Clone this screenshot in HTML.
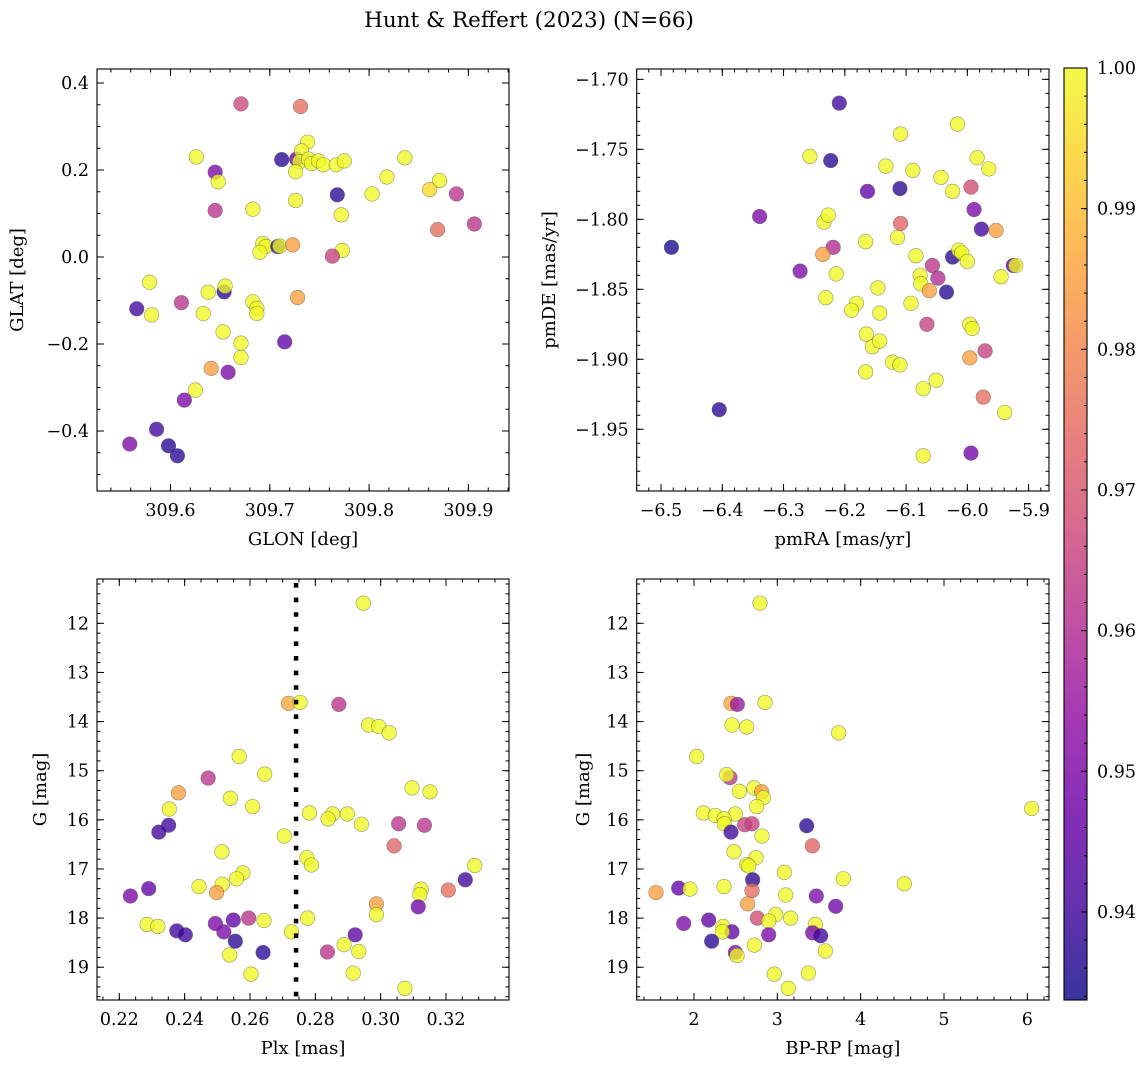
<!DOCTYPE html>
<html><head><meta charset="utf-8">
<style>
html,body{margin:0;padding:0;background:#fff;}
svg{display:block;font-family:"DejaVu Serif","Liberation Serif",serif;}
</style></head>
<body>
<svg id="fig" width="1148" height="1068" viewBox="0 0 1148 1068" xmlns="http://www.w3.org/2000/svg">
<defs>
<linearGradient id="plasma" x1="0" y1="1" x2="0" y2="0">
<stop offset="0" stop-color="#0d0887"/><stop offset="0.1" stop-color="#41049d"/><stop offset="0.2" stop-color="#6a00a8"/><stop offset="0.3" stop-color="#8f0da4"/><stop offset="0.4" stop-color="#b12a90"/><stop offset="0.5" stop-color="#cc4778"/><stop offset="0.6" stop-color="#e16462"/><stop offset="0.7" stop-color="#f2844b"/><stop offset="0.8" stop-color="#fca636"/><stop offset="0.9" stop-color="#fcce25"/><stop offset="1" stop-color="#f0f921"/>
</linearGradient>
</defs>
<text x="529" y="27" font-size="21.5" text-anchor="middle">Hunt &amp; Reffert (2023) (N=66)</text>
<g id="plots"></g>
</svg>
<script>
// ---- Panel 1: GLON vs GLAT ----
const p1Glon=[309.671,309.731,309.626,309.712,309.727,309.738,309.732,309.730,309.739,309.742,309.749,309.754,309.767,309.775,309.726,309.836,309.645,309.648,309.818,309.871,309.861,309.768,309.803,309.888,309.726,309.645,309.683,309.772,309.906,309.869,309.693,309.696,309.690,309.708,309.710,309.723,309.773,309.763,309.579,309.566,309.581,309.611,309.638,309.654,309.655,309.633,309.683,309.687,309.687,309.728,309.653,309.671,309.671,309.715,309.641,309.658,309.625,309.614,309.586,309.559,309.598,309.607];
const p1Glat=[0.352,0.346,0.230,0.224,0.225,0.264,0.244,0.219,0.225,0.215,0.221,0.212,0.212,0.221,0.196,0.228,0.195,0.173,0.184,0.176,0.155,0.143,0.145,0.145,0.130,0.107,0.110,0.097,0.076,0.063,0.031,0.024,0.011,0.024,0.025,0.028,0.015,0.002,-0.058,-0.119,-0.133,-0.105,-0.081,-0.080,-0.067,-0.130,-0.103,-0.118,-0.130,-0.093,-0.172,-0.198,-0.231,-0.195,-0.256,-0.265,-0.306,-0.329,-0.396,-0.430,-0.434,-0.457];
const p1Prob=[0.967,0.975,1,0.937,0.945,1,1,1,1,1,1,1,1,1,1,1,0.95,1,1,1,0.995,0.937,1,0.962,1,0.962,1,1,0.962,0.975,1,1,1,0.937,1,0.985,1,0.965,1,0.94,1,0.962,1,0.937,1,1,1,1,1,0.985,1,1,1,0.945,0.985,0.95,1,0.95,0.94,0.95,0.937,0.937];
// ---- Panel 2: pmRA vs pmDE ----
const p2PmRA=[-6.209,-6.016,-6.109,-6.257,-6.223,-5.984,-6.133,-6.089,-5.965,-6.043,-6.163,-6.110,-6.024,-5.994,-5.989,-6.339,-6.234,-6.227,-6.109,-5.977,-5.953,-6.483,-6.219,-6.166,-6.114,-6.236,-6.084,-6.024,-6.014,-6.009,-6.000,-6.273,-6.214,-6.057,-5.925,-5.921,-6.077,-6.076,-6.048,-5.945,-6.146,-6.062,-6.034,-6.231,-6.181,-6.189,-6.143,-6.092,-6.066,-5.996,-5.992,-6.165,-6.155,-6.143,-5.971,-5.996,-6.122,-6.110,-6.166,-6.051,-6.072,-5.974,-5.939,-6.405,-6.072,-5.994];
const p2PmDE=[-1.717,-1.732,-1.739,-1.755,-1.758,-1.756,-1.762,-1.765,-1.764,-1.770,-1.780,-1.778,-1.780,-1.777,-1.793,-1.798,-1.802,-1.797,-1.803,-1.807,-1.808,-1.820,-1.820,-1.816,-1.813,-1.825,-1.826,-1.827,-1.822,-1.824,-1.830,-1.837,-1.839,-1.833,-1.833,-1.833,-1.840,-1.846,-1.842,-1.841,-1.849,-1.851,-1.852,-1.856,-1.860,-1.865,-1.867,-1.860,-1.875,-1.875,-1.878,-1.882,-1.891,-1.887,-1.894,-1.899,-1.902,-1.904,-1.909,-1.915,-1.921,-1.927,-1.938,-1.936,-1.969,-1.967];
const p2Prob=[0.94,1,1,1,0.937,1,1,1,1,1,0.945,0.937,1,0.968,0.95,0.95,1,1,0.973,0.94,0.985,0.935,0.96,1,1,0.985,1,0.937,1,1,1,0.95,1,0.962,0.945,1,1,1,0.96,1,1,0.985,0.937,1,1,1,1,1,0.965,1,1,1,1,1,0.965,0.985,1,1,1,1,1,0.975,1,0.937,1,0.948];
// ---- Panel 3: Plx vs G ----
const p3Plx=[0.2947,0.2718,0.2753,0.2872,0.2963,0.2994,0.3026,0.2567,0.2645,0.2472,0.2381,0.3096,0.3151,0.2540,0.2608,0.2353,0.2782,0.2853,0.2839,0.2898,0.2941,0.2351,0.2321,0.3055,0.3134,0.2705,0.3041,0.2514,0.2774,0.2788,0.3288,0.3259,0.2578,0.2559,0.2515,0.2444,0.2498,0.2290,0.2234,0.3124,0.3120,0.3207,0.2987,0.3115,0.2987,0.2776,0.2596,0.2549,0.2643,0.2494,0.2285,0.2318,0.2520,0.2376,0.2402,0.2727,0.2922,0.2555,0.2888,0.2933,0.2837,0.2640,0.2538,0.2603,0.2916,0.3074];
const p3G=[11.59,13.63,13.61,13.65,14.07,14.10,14.23,14.71,15.07,15.15,15.45,15.35,15.43,15.56,15.73,15.78,15.86,15.88,15.98,15.88,16.09,16.11,16.25,16.08,16.11,16.33,16.53,16.65,16.77,16.92,16.93,17.22,17.08,17.20,17.31,17.36,17.48,17.40,17.55,17.41,17.52,17.43,17.71,17.77,17.93,18.00,18.00,18.04,18.05,18.11,18.13,18.17,18.28,18.26,18.34,18.28,18.34,18.47,18.54,18.68,18.69,18.70,18.75,19.14,19.12,19.43];
const p3Prob=[1,0.987,1,0.962,1,1,1,1,1,0.962,0.985,1,1,1,1,1,1,1,1,1,1,0.94,0.94,0.962,0.962,1,0.973,1,1,1,1,0.94,1,1,1,1,0.985,0.945,0.95,1,1,0.975,0.985,0.948,1,1,0.962,0.945,1,0.95,1,1,0.95,0.94,0.94,1,0.945,0.937,1,1,0.962,0.937,1,1,1,1];
const plxRef=[0.2741];
// ---- Panel 4: BP-RP vs G ----
const p4Bprp=[2.792,2.444,2.520,2.852,2.456,2.632,3.736,2.032,2.432,2.392,2.720,2.812,2.544,2.832,2.752,6.052,2.112,2.256,2.496,2.360,2.364,2.608,2.696,3.352,2.444,2.816,3.420,2.480,2.744,2.632,2.656,3.084,2.704,3.792,4.524,2.360,1.816,1.952,1.544,2.696,3.100,3.468,2.644,3.700,2.980,2.760,3.160,2.176,2.896,1.876,2.348,2.456,2.340,3.456,3.424,3.520,2.896,2.212,2.724,3.576,2.496,2.516,2.964,3.372,3.132];
const p4G=[11.59,13.63,13.65,13.61,14.07,14.11,14.23,14.71,15.14,15.08,15.35,15.43,15.42,15.55,15.73,15.77,15.86,15.91,15.88,15.98,16.08,16.10,16.08,16.12,16.25,16.33,16.53,16.65,16.77,16.91,16.94,17.07,17.22,17.20,17.30,17.36,17.39,17.41,17.48,17.44,17.53,17.55,17.71,17.76,17.93,18.00,18.00,18.04,18.06,18.11,18.17,18.28,18.28,18.13,18.30,18.36,18.34,18.47,18.55,18.67,18.70,18.76,19.14,19.12,19.43];
const p4Prob=[1,0.987,0.955,1,1,1,1,1,0.962,1,1,0.985,1,1,1,1,1,1,1,1,1,0.965,0.965,0.937,0.94,1,0.973,1,1,1,1,1,0.937,1,1,1,0.945,1,0.985,0.975,1,0.95,0.985,0.948,1,0.968,1,0.945,1,0.95,1,0.945,1,1,0.95,0.94,0.95,0.937,1,1,0.95,1,1,1,1];
// ---- Colorbar ----
const cbTicks=[0.94,0.95,0.96,0.97,0.98,0.99,1.00];
const cbRange=[0.93374,1.0];

const NS="http://www.w3.org/2000/svg";
const root=document.getElementById('plots');
function mk(tag,attrs,parent){const e=document.createElementNS(NS,tag);for(const k in attrs)e.setAttribute(k,attrs[k]);(parent||root).appendChild(e);return e;}
const stops=[[13,8,135],[65,4,157],[106,0,168],[143,13,164],[177,42,144],[204,71,120],[225,100,98],[242,132,75],[252,166,54],[252,206,37],[240,249,33]];
function plasma(v){let t=(v-cbRange[0])/(cbRange[1]-cbRange[0]);t=Math.max(0,Math.min(1,t))*10;const i=Math.min(9,Math.floor(t)),f=t-i;const a=stops[i],b=stops[i+1];return 'rgb('+[0,1,2].map(k=>Math.round(a[k]+(b[k]-a[k])*f)).join(',')+')';}
function lin(d0,d1,r0,r1){return v=>r0+(v-d0)/(d1-d0)*(r1-r0);}
function fmt(v,dec){const s=Math.abs(v).toFixed(dec);return (v<-1e-9?'\u2212':'')+s;}
function ticksIn(d0,d1,step){const lo=Math.min(d0,d1),hi=Math.max(d0,d1);const out=[];for(let k=Math.ceil(lo/step-1e-6);k*step<=hi+1e-9;k++)out.push(+(k*step).toFixed(6));return out;}
const TFS=17.5, LFS=18;

function panel(c){
  const g=mk('g',{});
  
  
  const xs=lin(c.xd[0],c.xd[1],c.box[0],c.box[1]);
  const ys=lin(c.yd[0],c.yd[1],c.box[2],c.box[3]);
  const [L,R,T,B]=c.box;
  const tg=mk('g',{stroke:'#000','stroke-width':1},g);
  ticksIn(c.xd[0],c.xd[1],c.xminor).forEach(v=>{const x=xs(v);mk('line',{x1:x,x2:x,y1:B,y2:B-3.5},tg);mk('line',{x1:x,x2:x,y1:T,y2:T+3.5},tg);});
  ticksIn(c.yd[0],c.yd[1],c.yminor).forEach(v=>{const y=ys(v);mk('line',{x1:L,x2:L+3.5,y1:y,y2:y},tg);mk('line',{x1:R,x2:R-3.5,y1:y,y2:y},tg);});
  ticksIn(c.xd[0],c.xd[1],c.xmajor).forEach(v=>{const x=xs(v);mk('line',{x1:x,x2:x,y1:B,y2:B-7},tg);mk('line',{x1:x,x2:x,y1:T,y2:T+7},tg);
    const t=mk('text',{x:x,y:B+25,'font-size':TFS,'text-anchor':'middle'},g);t.textContent=fmt(v,c.xdec);
    
    });
  ticksIn(c.yd[0],c.yd[1],c.ymajor).forEach(v=>{const y=ys(v);mk('line',{x1:L,x2:L+7,y1:y,y2:y},tg);mk('line',{x1:R,x2:R-7,y1:y,y2:y},tg);
    const t=mk('text',{x:L-8,y:y+6,'font-size':TFS,'text-anchor':'end'},g);t.textContent=fmt(v,c.ydec);
    
    });
  const pg=mk('g',{},g);
  
  
  c.xv.forEach((v,i)=>{const p=mk('circle',{cx:xs(v),cy:ys(c.yv[i]),r:7.3,fill:plasma(c.cv[i]),'fill-opacity':0.78,stroke:'#555','stroke-opacity':0.6,'stroke-width':0.6},pg);
    
    });
  if(c.extra)c.extra(g,xs,ys);
  const fr=mk('rect',{x:L,y:T,width:R-L,height:B-T,fill:'none',stroke:'#000','stroke-width':1.1},g);
  
  
  const xl=mk('text',{x:(L+R)/2,y:B+54,'font-size':LFS,'text-anchor':'middle'},g);xl.textContent=c.xlabel;
  
  
  const yl=mk('text',{x:0,y:0,'font-size':LFS,'text-anchor':'middle',transform:'translate('+c.ylx+','+(T+B)/2+') rotate(-90)'},g);yl.textContent=c.ylabel;
  
  
}

panel({name:'panel-glon-glat',box:[97,509,69,491],xd:[309.5260,309.9409],yd:[0.4322,-0.5379],xmajor:0.1,xminor:0.02,ymajor:0.2,yminor:0.05,xdec:1,ydec:1,xv:p1Glon,yv:p1Glat,cv:p1Prob,xlabel:'GLON [deg]',ylabel:'GLAT [deg]',ylx:23});
panel({name:'panel-pmra-pmde',box:[636.7,1049,69,491],xd:[-6.5397,-5.8667],yd:[-1.6926,-1.9941],xmajor:0.1,xminor:0.02,ymajor:0.05,yminor:0.01,xdec:1,ydec:2,xv:p2PmRA,yv:p2PmDE,cv:p2Prob,xlabel:'pmRA [mas/yr]',ylabel:'pmDE [mas/yr]',ylx:555});
panel({name:'panel-plx-g',box:[97,509,579,1000],xd:[0.21317,0.33928],yd:[11.098,19.667],xmajor:0.02,xminor:0.005,ymajor:1,yminor:0.2,xdec:2,ydec:0,xv:p3Plx,yv:p3G,cv:p3Prob,xlabel:'Plx [mas]',ylabel:'G [mag]',ylx:46,
  extra:(g,xs,ys)=>{const x=xs(plxRef[0]);const l=mk('line',{x1:x,x2:x,y1:579,y2:1000,stroke:'#000','stroke-width':4.5,'stroke-dasharray':'4.6 10','stroke-dashoffset':'-4'},g);
    
    }});
panel({name:'panel-bprp-g',box:[636.7,1049,579,1000],xd:[1.3124,6.260],yd:[11.098,19.667],xmajor:1,xminor:0.2,ymajor:1,yminor:0.2,xdec:0,ydec:0,xv:p4Bprp,yv:p4G,cv:p4Prob,xlabel:'BP-RP [mag]',ylabel:'G [mag]',ylx:589});

(function(){
  const g=mk('g',{});
  
  
  const L=1064,R=1087,T=68,B=1000;
  const cs=lin(cbRange[0],cbRange[1],B,T);
  mk('rect',{x:L,y:T,width:R-L,height:B-T,fill:'url(#plasma)','fill-opacity':0.82},g);
  ticksIn(cbRange[0],cbRange[1],0.002).forEach(v=>{const y=cs(v);mk('line',{x1:R,x2:R-3,y1:y,y2:y,stroke:'#000','stroke-width':1},g);});
  cbTicks.forEach(v=>{const y=cs(v);mk('line',{x1:R,x2:R-6,y1:y,y2:y,stroke:'#000','stroke-width':1},g);
    const t=mk('text',{x:R+10,y:y+6,'font-size':TFS},g);t.textContent=v.toFixed(2);
    
    });
  mk('rect',{x:L,y:T,width:R-L,height:B-T,fill:'none',stroke:'#000','stroke-width':1.1},g);
})();
</script>
</body></html>
